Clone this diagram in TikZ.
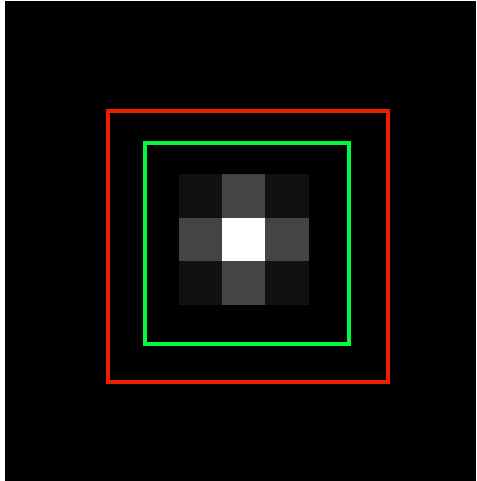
\documentclass[tikz,border=0pt]{standalone}
\definecolor{redbox}{RGB}{232,32,0}
\definecolor{greenbox}{RGB}{0,250,64}
\definecolor{dk}{RGB}{17,17,17}
\definecolor{md}{RGB}{68,68,68}
\begin{document}
\begin{tikzpicture}[x=1pt,y=-1pt,
  box/.style={line width=4pt},
  cell/.style={draw=none}]
\useasboundingbox (0,0) rectangle (476,481);
\fill[white] (0,0) rectangle (476,481);
\fill[black] (5,1) rectangle (476,481);
% grid
\fill[dk] (179,174) rectangle (222,218);
\fill[md] (222,174) rectangle (265,218);
\fill[dk] (265,174) rectangle (309,218);
\fill[md] (179,218) rectangle (222,261);
\fill[white] (222,218) rectangle (265,261);
\fill[md] (265,218) rectangle (309,261);
\fill[dk] (179,261) rectangle (222,305);
\fill[md] (222,261) rectangle (265,305);
\fill[dk] (265,261) rectangle (309,305);
% boxes
\draw[box,draw=redbox] (108,111) rectangle (387.5,382);
\draw[box,draw=greenbox] (145.3,143) rectangle (349,344);
\end{tikzpicture}
\end{document}
